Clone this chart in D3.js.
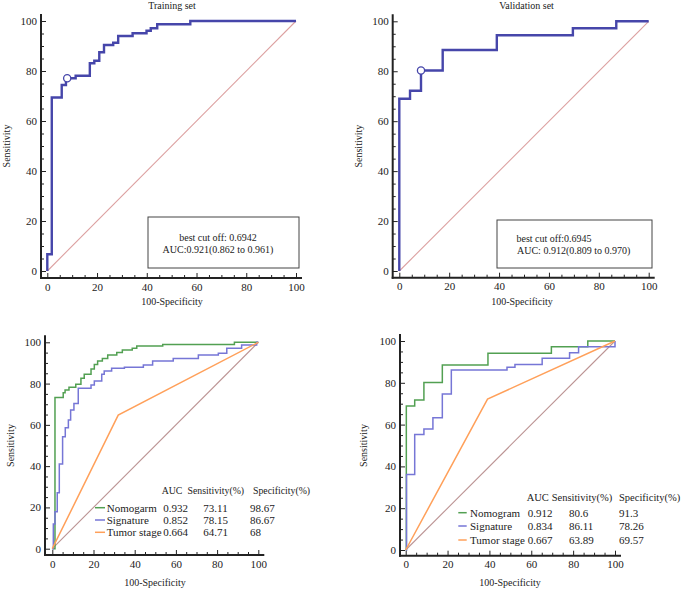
<!DOCTYPE html>
<html><head><meta charset="utf-8">
<script src="https://cdn.jsdelivr.net/npm/d3@7"></script>
<style>
body{margin:0;background:#fff}
svg{display:block}
text{font-family:"Liberation Serif","Times New Roman",serif;fill:#222}
</style>
</head><body>
<svg id="c" width="685" height="593"></svg>
<script>
// ---------- data ----------
const majorTicks = [0, 20, 40, 60, 80, 100];
const minorTicks = [5,10,15,25,30,35,45,50,55,65,70,75,85,90,95];

// Training set ROC (100-Specificity, Sensitivity) — step points
const trainFPR = [0, 0, 1.8, 5.8, 7.5, 11.4, 17.1, 18.9, 20.9, 22.8, 26.5, 28.5, 34.3, 39.9, 41.6, 44.2, 57.5, 100];
const trainTPR = [0, 6.7, 69.4, 74.4, 77.1, 78.1, 83.1, 84.1, 87.5, 90.4, 91.3, 94.0, 95.1, 96.1, 97.1, 98.7, 100, 100];
const trainCut = [8.0, 77.1];
const trainBox = ["best cut off: 0.6942", "AUC:0.921(0.862 to 0.961)"];

// Validation set ROC
const validFPR = [0, 0, 4.3, 8.7, 17.4, 39.1, 69.6, 87.0, 100];
const validTPR = [0, 69.0, 72.2, 80.3, 88.5, 94.4, 97.2, 100, 100];
const validCut = [8.7, 80.3];
const validBox = ["best cut off:0.6945", "AUC: 0.912(0.809 to 0.970)"];

// Training comparison
const trNomoFPR = [0, 1.3, 5.3, 6.2, 8.1, 11.4, 13.9, 15.5, 18.8, 20.4, 22.0, 24.3, 26.9, 31.3, 34.0, 38.8, 41.0, 53.6, 88.4, 100];
const trNomoTPR = [0, 73.2, 75.6, 76.9, 78.2, 79.7, 82.6, 84.5, 87.1, 89.3, 90.9, 92.2, 93.8, 95.1, 96.3, 97.1, 98.2, 98.9, 100, 100];
const trSigFPR = [0, 0.5, 1.3, 2.4, 3.4, 5.0, 6.3, 7.8, 8.9, 10.5, 12.6, 18.8, 20.4, 24.0, 25.2, 28.8, 35.0, 44.2, 48.7, 58.7, 70.9, 80.6, 84.7, 91.9, 99.2, 100];
const trSigTPR = [0, 12.0, 17.9, 27.1, 41.0, 54.3, 58.6, 62.3, 67.2, 70.4, 77.7, 79.3, 81.3, 84.5, 86.1, 87.4, 87.9, 89.0, 90.9, 92.2, 93.8, 94.7, 97.1, 98.7, 100, 100];
const trStageFPR = [0, 32, 100];
const trStageTPR = [0, 64.71, 100];

// Validation comparison
const vaNomoFPR = [0, 0.3, 4.3, 8.7, 17.5, 39.3, 69.6, 87.0, 100];
const vaNomoTPR = [0, 68.9, 71.8, 80.1, 88.5, 94.1, 97.2, 100, 100];
const vaSigFPR = [0, 0.4, 4.3, 8.7, 13.0, 17.5, 21.8, 48.4, 52.2, 65.2, 78.3, 82.6, 100];
const vaSigTPR = [0, 36.1, 55.3, 57.9, 63.3, 74.6, 86.1, 87.4, 88.8, 91.7, 94.4, 97.2, 100];
const vaStageFPR = [0, 39.1, 100];
const vaStageTPR = [0, 72.2, 100];

const legendHeader = ["AUC", "Sensitivity(%)", "Specificity(%)"];
const trModels = ["Nomogarm", "Signature", "Tumor stage"];
const trAUC = ["0.932", "0.852", "0.664"];
const trSens = ["73.11", "78.15", "64.71"];
const trSpec = ["98.67", "86.67", "68"];
const vaModels = ["Nomogram", "Signature", "Tumor stage"];
const vaAUC = ["0.912", "0.834", "0.667"];
const vaSens = ["80.6", "86.11", "63.89"];
const vaSpec = ["91.3", "78.26", "69.57"];

// ---------- drawing ----------
const svg = d3.select("#c");
const C = {topBlue:"#4646aa", green:"#52a052", blue:"#7676d6", orange:"#ffa05a", diagTop:"#dca0a0", diagBot:"#bc9494"};

function makePanel(p){
  const x = d3.scaleLinear().domain([0,100]).range([p.x0, p.x1]);
  const y = d3.scaleLinear().domain([0,100]).range([p.y0, p.y1]);
  const g = svg.append("g");
  // axes
  const ya = d3.axisLeft(y).tickValues(majorTicks).tickFormat(d=>d).tickSizeInner(-5).tickSizeOuter(0).tickPadding(4);
  const yg = g.append("g").attr("transform",`translate(${p.axX},0)`).call(ya);
  const yam = d3.axisLeft(y).tickValues(minorTicks).tickFormat("").tickSizeInner(-3).tickSizeOuter(0);
  const ygm = g.append("g").attr("transform",`translate(${p.axX},0)`).call(yam);
  const xa = d3.axisBottom(x).tickValues(majorTicks).tickFormat(d=>d).tickSizeInner(-5).tickSizeOuter(0).tickPadding(5);
  const xg = g.append("g").attr("transform",`translate(0,${p.axY})`).call(xa);
  const xam = d3.axisBottom(x).tickValues(minorTicks).tickFormat("").tickSizeInner(-3).tickSizeOuter(0);
  const xgm = g.append("g").attr("transform",`translate(0,${p.axY})`).call(xam);
  [yg,ygm,xg,xgm].forEach(s=>{
    s.select(".domain").remove();
    s.attr("color","#222").attr("font-family",null).attr("font-size",null);
    s.selectAll("text").style("font-size","11px").style("fill","#222");
    s.selectAll("line").attr("stroke","#222").attr("stroke-width",1);
  });
  g.append("line").attr("x1",p.axX).attr("x2",p.axX).attr("y1",p.axY+1).attr("y2",y(100)-7)
    .attr("stroke","#222").attr("stroke-width",2);
  g.append("line").attr("x1",p.axX-1).attr("x2",x(100)+6).attr("y1",p.axY).attr("y2",p.axY)
    .attr("stroke","#222").attr("stroke-width",2);
  // labels
  g.append("text").attr("transform",`translate(${p.ylabX},${(p.y0+p.y1)/2}) rotate(-90)`)
    .attr("text-anchor","middle").attr("dy","0.35em").style("font-size","10px").text("Sensitivity");
  g.append("text").attr("x",p.xlabX).attr("y",p.xlabY).attr("text-anchor","middle").attr("dy","0.35em")
    .style("font-size","10px").text("100-Specificity");
  if(p.title) g.append("text").attr("x",p.titleX).attr("y",p.titleY).attr("text-anchor","middle")
    .style("font-size","10px").text(p.title);
  // diagonal
  const line = d3.line().x(d=>x(d[0])).y(d=>y(d[1]));
  g.append("path").datum([[0,0],[100,100]]).attr("d",line).attr("fill","none")
    .attr("stroke",p.diag).attr("stroke-width",1.1);
  return {g,x,y};
}

const stepLine = (x,y)=>d3.line().x(d=>x(d[0])).y(d=>y(d[1])).curve(d3.curveStepAfter);
const straight = (x,y)=>d3.line().x(d=>x(d[0])).y(d=>y(d[1]));

// Top panels
function topPanel(p, fpr, tpr, cut, box){
  const {g,x,y} = makePanel(p);
  g.append("path").datum(d3.zip(fpr,tpr)).attr("d",stepLine(x,y)).attr("fill","none")
    .attr("stroke",C.topBlue).attr("stroke-width",2.4);
  g.append("circle").attr("cx",x(cut[0])).attr("cy",y(cut[1])).attr("r",3.6)
    .attr("fill","#fff").attr("stroke",C.topBlue).attr("stroke-width",1.3);
  g.append("rect").attr("x",p.box[0]).attr("y",p.box[1]).attr("width",p.box[2]).attr("height",p.box[3])
    .attr("fill","#fff").attr("stroke","#444").attr("stroke-width",1);
  box.forEach((t,i)=>{
    g.append("text").attr("x",p.boxTx[i]).attr("y",p.boxTy[i]).attr("text-anchor",p.boxAnchor)
      .attr("dy","0.35em").style("font-size","10px").text(t);
  });
}

topPanel({x0:47.3,x1:296,y0:271,y1:21,axX:41,axY:278,ylabX:6,xlabX:172,xlabY:301,title:"Training set",titleX:172,titleY:9,
  diag:C.diagTop, box:[148,217,151,51], boxTx:[218,218], boxTy:[237,249], boxAnchor:"middle"},
  trainFPR, trainTPR, trainCut, trainBox);
topPanel({x0:399.3,x1:648.7,y0:271,y1:21.3,axX:392.7,axY:277.7,ylabX:358,xlabX:522,xlabY:301,title:"Validation set",titleX:526.5,titleY:9,
  diag:C.diagTop, box:[497,220,155,48], boxTx:[516.5,517], boxTy:[238,250], boxAnchor:"start"},
  validFPR, validTPR, validCut, validBox);

// Bottom panels
function bottomPanel(p, series, models, auc, sens, spec){
  const {g,x,y} = makePanel(p);
  series.forEach(s=>{
    const gen = s.step ? stepLine(x,y) : straight(x,y);
    g.append("path").datum(d3.zip(s.fpr,s.tpr)).attr("d",gen).attr("fill","none")
      .attr("stroke",s.color).attr("stroke-width",1.5);
  });
  const L = p.leg;
  legendHeader.forEach((h,i)=>{
    g.append("text").attr("x",L.hx[i]).attr("y",L.hy).attr("dy","0.35em").style("font-size",L.hfs).text(h);
  });
  models.forEach((m,i)=>{
    const yy = L.ry[i];
    g.append("line").attr("x1",L.lx[0]).attr("x2",L.lx[1]).attr("y1",yy).attr("y2",yy)
      .attr("stroke",series[i].color).attr("stroke-width",1.5);
    g.append("text").attr("x",L.tx).attr("y",yy).attr("dy","0.35em").style("font-size","11px").text(m);
    g.append("text").attr("x",L.vx[0]).attr("y",yy).attr("dy","0.35em").style("font-size","11px").text(auc[i]);
    g.append("text").attr("x",L.vx[1]).attr("y",yy).attr("dy","0.35em").style("font-size","11px").text(sens[i]);
    g.append("text").attr("x",L.vx[2]).attr("y",yy).attr("dy","0.35em").style("font-size","11px").text(spec[i]);
  });
}

bottomPanel({x0:52.3,x1:258.3,y0:548.7,y1:342.3,axX:45,axY:555,ylabX:10,xlabX:155,xlabY:582,
  diag:C.diagBot,
  leg:{hy:491,hx:[161.7,187.5,253],hfs:"9.8px",ry:[507.7,520,532.3],lx:[95,105],tx:106.7,vx:[163.3,203.3,250]}},
  [{fpr:trNomoFPR,tpr:trNomoTPR,color:C.green,step:true},
   {fpr:trSigFPR,tpr:trSigTPR,color:C.blue,step:true},
   {fpr:trStageFPR,tpr:trStageTPR,color:C.orange,step:false}],
  trModels, trAUC, trSens, trSpec);

bottomPanel({x0:405.7,x1:615,y0:550,y1:341,axX:400,axY:555.7,ylabX:363,xlabX:510,xlabY:582,
  diag:C.diagBot,
  leg:{hy:497.7,hx:[526.7,551.7,619],hfs:"10.5px",ry:[512.7,526,540],lx:[458.3,466.7],tx:470,vx:[527.7,569,619]}},
  [{fpr:vaNomoFPR,tpr:vaNomoTPR,color:C.green,step:true},
   {fpr:vaSigFPR,tpr:vaSigTPR,color:C.blue,step:true},
   {fpr:vaStageFPR,tpr:vaStageTPR,color:C.orange,step:false}],
  vaModels, vaAUC, vaSens, vaSpec);
</script>
</body></html>
